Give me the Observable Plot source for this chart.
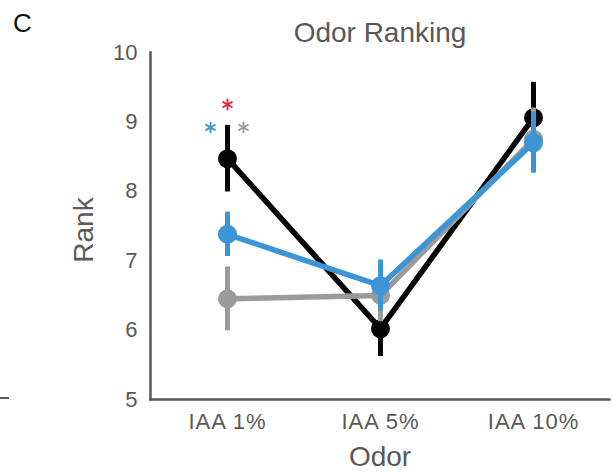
<!DOCTYPE html>
<html>
<head>
<meta charset="utf-8">
<script src="https://cdn.jsdelivr.net/npm/d3@7"></script>
<script src="https://cdn.jsdelivr.net/npm/@observablehq/plot@0.6"></script>
<style>
  body { margin: 0; background: #fff; }
  #fig { position: relative; width: 613px; height: 472px; font-family: "Liberation Sans", Arial, sans-serif; }
  #panel { position: absolute; left: 13px; top: 10px; font-size: 26px; color: #111; line-height: 1; }
  #edge { position: absolute; left: 0; top: 397px; width: 9px; height: 2px; background: #595959; }
  #fig svg { position: absolute; left: 0; top: 0; }
  #fig svg g[aria-label="x-axis tick label"] { letter-spacing: 1px; }
</style>
</head>
<body>
<div id="fig">
  <div id="panel">C</div>
  <div id="edge"></div>
</div>
<script>
// Odor concentrations on the x axis
const odors = ["IAA 1%", "IAA 5%", "IAA 10%"];
const rankTicks = [5, 6, 7, 8, 9, 10];

// Mean rank and error (±) for each group
const blackMean = [8.47, 6.02, 9.06];
const blackErr  = [0.48, 0.40, 0.51];
const grayMean  = [6.45, 6.50, 8.75];
const grayErr   = [0.46, 0.38, 0.45];
const blueMean  = [7.38, 6.64, 8.70];
const blueErr   = [0.32, 0.37, 0.44];

// Significance markers above IAA 1%
const sigOdor = "IAA 1%";
const sigRed  = 9.25;
const sigPair = 8.92;

const colors = { black: "#050505", gray: "#9b9b9b", blue: "#3b95d6", red: "#e3263d", axis: "#595959" };

function rows(means, errs) {
  return odors.map((odor, i) => ({ odor, mean: means[i], lo: means[i] - errs[i], hi: means[i] + errs[i] }));
}

const groups = [
  { color: colors.black, data: rows(blackMean, blackErr) },
  { color: colors.gray,  data: rows(grayMean, grayErr) },
  { color: colors.blue,  data: rows(blueMean, blueErr) }
];

const groupMarks = groups.flatMap(g => [
  Plot.line(g.data, { x: "odor", y: "mean", stroke: g.color, strokeWidth: 5.5 }),
  Plot.ruleX(g.data, { x: "odor", y1: "lo", y2: "hi", stroke: g.color, strokeWidth: 5 }),
  Plot.dot(g.data, { x: "odor", y: "mean", fill: g.color, r: 9.5 })
]);

const star = (value, color, dx) =>
  Plot.dot([value], { x: () => sigOdor, y: d => d, dx, symbol: "asterisk", r: 5.5, stroke: color, strokeWidth: 1.8 });

const label = (text, options) =>
  Plot.text([text], { text: d => d, fontSize: 28, fill: colors.axis, textAnchor: "middle", lineAnchor: "middle", ...options });

const chart = Plot.plot({
  width: 613,
  height: 472,
  marginLeft: 150,
  marginRight: 4,
  marginTop: 52,
  marginBottom: 73,
  style: { fontFamily: "'Liberation Sans', Arial, sans-serif", fontSize: "22px", color: colors.axis, background: "transparent", overflow: "visible" },
  x: { type: "point", domain: odors, padding: 0.5 },
  y: { domain: [5, 10] },
  marks: [
    Plot.axisY({ ticks: rankTicks, tickFormat: d3.format("d"), tickSize: 0, tickPadding: 13, label: null, fontSize: 22 }),
    Plot.axisX({ tickSize: 0, tickPadding: 14, label: null, fontSize: 22 }),
    Plot.frame({ anchor: "bottom", stroke: colors.axis, strokeWidth: 2.5 }),
    Plot.frame({ anchor: "left", stroke: colors.axis, strokeWidth: 2.5 }),
    ...groupMarks,
    star(sigRed, colors.red, 0),
    star(sigPair, colors.blue, -17),
    star(sigPair, colors.gray, 16),
    label("Odor Ranking", { frameAnchor: "top", dy: -19 }),
    label("Odor", { frameAnchor: "bottom", dy: 58 }),
    label("Rank", { frameAnchor: "left", dx: -66, dy: 4, rotate: -90 })
  ]
});

document.getElementById("fig").appendChild(chart);
</script>
</body>
</html>
